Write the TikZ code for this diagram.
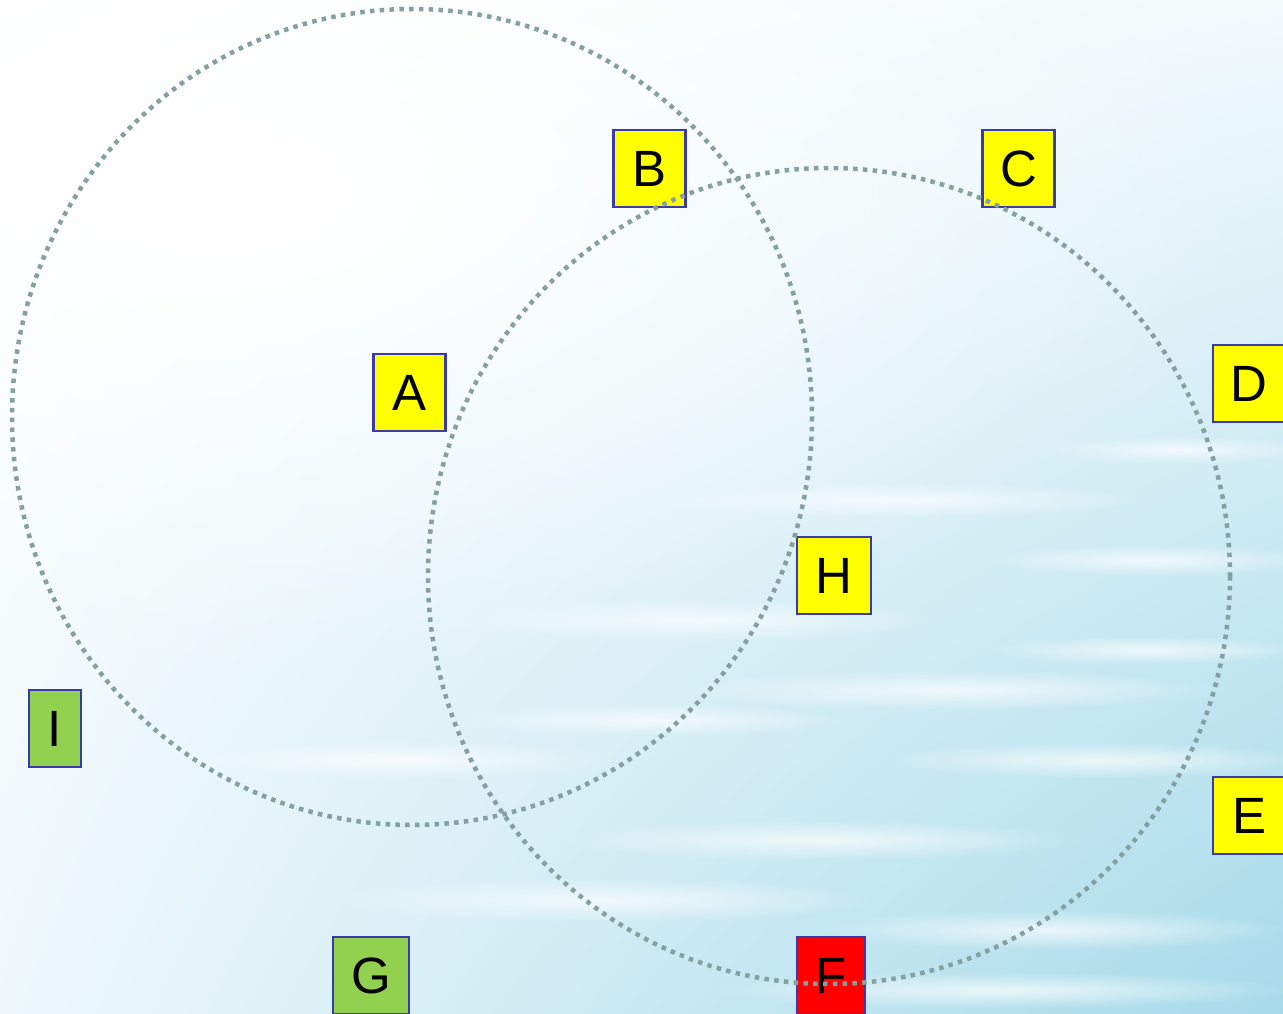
\documentclass[tikz,border=0pt]{standalone}
\usepackage{fontspec}
\setmainfont{Liberation Sans}
\usetikzlibrary{shadings,fadings}
\tikzfading[name=softfade, inner color=transparent!0, outer color=transparent!100]
\begin{document}
\begin{tikzpicture}[x=1pt,y=-1pt,
  lbl/.style={draw=boxblue,line width=2.2pt,minimum height=77pt,inner sep=0pt,font=\fontsize{51}{51}\selectfont,text=black},
  ylw/.style={lbl,fill=pureyellow,minimum width=72pt},
  grn/.style={lbl,fill=leaf,minimum width=76pt},
  redbox/.style={lbl,fill=red,minimum width=68pt},
  ring/.style={draw=ringgray,line width=4.5pt,dash pattern=on 4.5pt off 5.3pt},
  streak/.style={fill=white,opacity=0.7,path fading=softfade}]
\definecolor{pureyellow}{RGB}{255,255,0}
\definecolor{boxblue}{HTML}{3A3AA8}
\definecolor{leaf}{HTML}{92D050}
\definecolor{ringgray}{HTML}{85A0A0}
\definecolor{wA}{HTML}{FFFFFF}
\definecolor{wB}{HTML}{F2FAFC}
\definecolor{wC}{HTML}{EEF8FB}
\definecolor{wD}{HTML}{A6DAEA}
\useasboundingbox (0,0) rectangle (1283,1014);
\shade[upper left=wA,upper right=wB,lower left=wC,lower right=wD] (0,0) rectangle (1283,1014);
\fill[white,path fading=softfade] (250,200) ellipse (1000 and 480);
% streaks
\foreach \x/\y/\rx/\ry in {700/620/240/22, 950/690/280/20, 1100/760/220/18, 820/840/260/20, 600/900/280/22, 1050/930/240/20, 900/500/250/18, 1150/560/170/16, 400/760/220/20, 1180/450/140/14, 650/720/200/16, 1150/650/160/14, 1000/990/300/18}
  \fill[streak] (\x,\y) ellipse ({\rx} and {\ry});
\node[ylw] (A) at (409.5,392.5) {A};
\node[ylw] (B) at (649.5,168.5) {B};
\node[ylw] (C) at (1018.5,168.5) {C};
\node[ylw] (D) at (1249,383.5) {D};
\node[ylw] (E) at (1249,815.5) {E};
\node[ylw,minimum width=74pt] (H) at (834,575.5) {H};
\node[redbox] (F) at (831,975.5) {F};
\node[grn] (G) at (371,975.5) {G};
\node[grn,minimum width=52pt] (I) at (55,728.5) {I};
\draw[ring] (412,417) ellipse (400 and 408);
\draw[ring] (829,576) ellipse (401 and 408);
\end{tikzpicture}
\end{document}
